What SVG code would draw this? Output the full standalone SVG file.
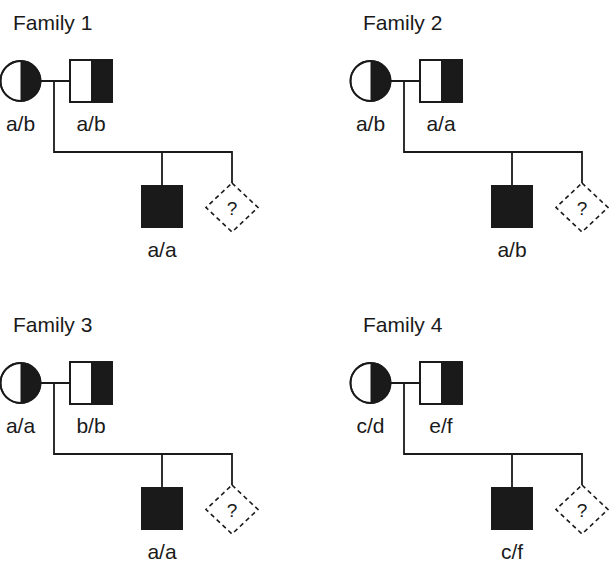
<svg xmlns="http://www.w3.org/2000/svg" width="616" height="570" viewBox="0 0 616 570">
<defs>
<style>
text{font-family:"Liberation Sans",Arial,sans-serif;fill:#1a1a1a}
.l{text-anchor:middle}
.q{text-anchor:middle}
.s{stroke:#1a1a1a;stroke-width:1.8;fill:none}
.w{fill:#fff;stroke:#1a1a1a;stroke-width:1.8}
.b{fill:#1a1a1a}
.d{fill:#fff;stroke:#1a1a1a;stroke-width:1.6;stroke-dasharray:4.5 3.5}
</style>
<g id="fam">
<g class="conn">
<path class="s" d="M40.5 81H70M54 81V152H232V183M162 152V185"/>
</g>
<g id="mother">
<circle class="w" cx="20.5" cy="81" r="20"/>
<path class="b" d="M20.5 61A20 20 0 0 1 20.5 101Z"/>
<circle class="s" cx="20.5" cy="81" r="20"/>
</g>
<g id="father">
<rect class="w" x="70" y="60" width="42" height="42"/>
<rect class="b" x="91" y="60" width="21" height="42"/>
<rect class="s" x="70" y="60" width="42" height="42"/>
</g>
<g id="son">
<rect class="b" x="141" y="185" width="42" height="43"/>
</g>
<g id="unknown">
<polygon class="d" points="232,183 258,207.5 232,232 206,207.5"/>
<text class="q" x="232" y="214.5" font-size="19">?</text>
</g>
</g>
</defs>
<rect width="616" height="570" fill="#fff"/>
<g id="family1" font-size="21">
<text x="13" y="30" font-size="21">Family 1</text>
<use href="#fam"/>
<text class="l" x="20.5" y="131" font-size="21">a/b</text>
<text class="l" x="91" y="131" font-size="21">a/b</text>
<text class="l" x="162" y="257" font-size="21">a/a</text>
</g>
<g id="family2" transform="translate(350,0)" font-size="21">
<text x="13" y="30" font-size="21">Family 2</text>
<use href="#fam"/>
<text class="l" x="20.5" y="131" font-size="21">a/b</text>
<text class="l" x="91" y="131" font-size="21">a/a</text>
<text class="l" x="162" y="257" font-size="21">a/b</text>
</g>
<g id="family3" transform="translate(0,302)" font-size="21">
<text x="13" y="30" font-size="21">Family 3</text>
<use href="#fam"/>
<text class="l" x="20.5" y="131" font-size="21">a/a</text>
<text class="l" x="91" y="131" font-size="21">b/b</text>
<text class="l" x="162" y="257" font-size="21">a/a</text>
</g>
<g id="family4" transform="translate(350,302)" font-size="21">
<text x="13" y="30" font-size="21">Family 4</text>
<use href="#fam"/>
<text class="l" x="20.5" y="131" font-size="21">c/d</text>
<text class="l" x="91" y="131" font-size="21">e/f</text>
<text class="l" x="162" y="257" font-size="21">c/f</text>
</g>
</svg>
